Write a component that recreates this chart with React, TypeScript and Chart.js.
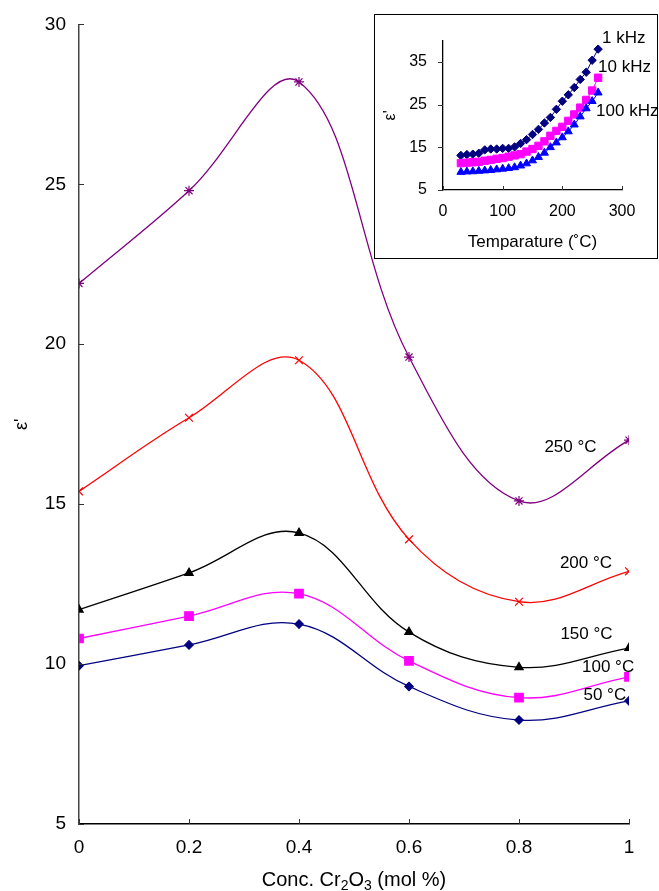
import { useEffect, useRef } from "react";
import { Chart, registerables } from "chart.js";

Chart.register(...registerables);

// ---------- main chart data ----------
const concentrations = [0, 0.2, 0.4, 0.6, 0.8, 1];
const eps50 = [9.95, 10.6, 11.25, 9.3, 8.25, 8.85];
const eps100 = [10.8, 11.5, 12.2, 10.1, 8.95, 9.6];
const eps150 = [11.7, 12.85, 14.1, 11.0, 9.9, 10.5];
const eps200 = [15.4, 17.7, 19.5, 13.9, 11.95, 12.9];
const eps250 = [21.9, 24.8, 28.2, 19.6, 15.1, 17.0];
const xTicks = [0, 0.2, 0.4, 0.6, 0.8, 1];
const xTickLabels = ["0", "0.2", "0.4", "0.6", "0.8", "1"];
const yTicks = [5, 10, 15, 20, 25, 30];
const seriesNames = ["50 °C", "100 °C", "150 °C", "200 °C", "250 °C"];

// ---------- inset data ----------
const temperatures = [30, 40, 50, 60, 70, 80, 90, 100, 110, 120, 130, 140, 150, 160, 170, 180, 190, 200, 210, 220, 230, 240, 250, 260];
const eps1k = [13.1, 13.3, 13.4, 13.6, 14.4, 14.6, 14.6, 14.75, 14.75, 15.1, 15.9, 16.8, 18.0, 19.2, 20.7, 22.0, 23.9, 25.8, 27.3, 29.0, 30.9, 32.6, 35.4, 38.0];
const eps10k = [11.3, 11.4, 11.5, 11.6, 11.85, 12.05, 12.3, 12.5, 12.8, 13.1, 13.4, 14.0, 14.6, 15.35, 16.4, 17.7, 18.85, 19.8, 21.2, 22.7, 24.3, 26.1, 28.3, 31.3];
const eps100k = [9.2, 9.3, 9.35, 9.45, 9.55, 9.65, 9.8, 9.95, 10.1, 10.3, 10.7, 11.2, 11.9, 12.7, 13.7, 15.0, 16.1, 17.3, 18.7, 20.3, 22.2, 24.1, 25.8, 27.8];
const insetXTicks = [0, 100, 200, 300];
const insetYTicks = [5, 15, 25, 35];
const insetNames = ["1 kHz", "10 kHz", "100 kHz"];

const FONT = "'Liberation Sans', Arial, sans-serif";

type Part = { t: string; sub?: boolean };

function drawRich(ctx: CanvasRenderingContext2D, parts: Part[], cx: number, cy: number, size: number) {
  const subSize = Math.round(size * 0.7);
  let total = 0;
  for (const p of parts) {
    ctx.font = `${p.sub ? subSize : size}px ${FONT}`;
    total += ctx.measureText(p.t).width;
  }
  let x = cx - total / 2;
  ctx.textAlign = "left";
  ctx.textBaseline = "middle";
  for (const p of parts) {
    ctx.font = `${p.sub ? subSize : size}px ${FONT}`;
    ctx.fillText(p.t, x, p.sub ? cy + size * 0.3 : cy);
    x += ctx.measureText(p.t).width;
  }
}

const decor = {
  id: "decor",
  afterDraw(chart: any, _args: any, opts: any) {
    const ctx: CanvasRenderingContext2D = chart.ctx;
    const xs = chart.scales.x;
    const ys = chart.scales.y;
    const area = chart.chartArea;
    ctx.save();
    ctx.lineWidth = 1;
    ctx.strokeStyle = opts.tickColor || "#000";
    ctx.beginPath();
    for (const v of opts.xTicks) {
      const px = Math.round(xs.getPixelForValue(v)) + 0.5;
      ctx.moveTo(px, area.bottom);
      ctx.lineTo(px, area.bottom - opts.xTickLen);
    }
    for (const v of opts.yTicks) {
      const py = Math.round(ys.getPixelForValue(v)) + 0.5;
      ctx.moveTo(area.left, py);
      ctx.lineTo(area.left + opts.yTickLen, py);
    }
    ctx.stroke();
    ctx.fillStyle = "#000";
    drawRich(ctx, opts.xTitle, (area.left + area.right) / 2, area.bottom + opts.xTitleOffset, opts.titleSize);
    ctx.save();
    ctx.translate(opts.yTitleX, (area.top + area.bottom) / 2);
    ctx.rotate(-Math.PI / 2);
    ctx.font = `${opts.yTitleSize}px ${FONT}`;
    ctx.textAlign = "center";
    ctx.textBaseline = "middle";
    ctx.fillText(opts.yTitle, 0, 0);
    ctx.restore();
    for (const l of opts.labels) {
      ctx.font = `${l.size}px ${FONT}`;
      ctx.textAlign = l.align || "center";
      ctx.textBaseline = "middle";
      ctx.fillText(l.text, xs.getPixelForValue(l.xv), ys.getPixelForValue(l.yv));
    }
    ctx.restore();
  },
};

function pts(xsArr: number[], ysArr: number[]) {
  return xsArr.map((x, i) => ({ x, y: ysArr[i] }));
}

function mainSeries(label: string, values: number[], color: string, style: string, radius: number) {
  return {
    label,
    data: pts(concentrations, values),
    borderColor: color,
    backgroundColor: color,
    borderWidth: 1.3,
    pointStyle: style,
    pointRadius: radius,
    pointBorderWidth: 1.2,
    pointBorderColor: color,
    pointBackgroundColor: color,
    tension: 0.38,
    fill: false,
  };
}

function insetSeries(label: string, values: number[], color: string, style: string, radius: number) {
  return {
    label,
    data: pts(temperatures, values),
    borderColor: color,
    backgroundColor: color,
    borderWidth: 1,
    pointStyle: style,
    pointRadius: radius,
    pointBorderWidth: 1,
    pointBorderColor: color,
    pointBackgroundColor: color,
    tension: 0,
    fill: false,
  };
}

export default function App() {
  const mainRef = useRef<HTMLCanvasElement>(null);
  const insetRef = useRef<HTMLCanvasElement>(null);

  useEffect(() => {
    Chart.defaults.font.family = FONT;
    Chart.defaults.color = "#000";

    const main = new Chart(mainRef.current!, {
      type: "line",
      data: {
        datasets: [
          mainSeries(seriesNames[0], eps50, "#000080", "rectRot", 4.2),
          mainSeries(seriesNames[1], eps100, "#ff00ff", "rect", 6),
          mainSeries(seriesNames[2], eps150, "#000000", "triangle", 4.8),
          mainSeries(seriesNames[3], eps200, "#ff0000", "crossRot", 5.5),
          mainSeries(seriesNames[4], eps250, "#800080", "star", 5),
        ],
      },
      options: {
        animation: false,
        responsive: false,
        layout: { padding: { top: 21, right: 30, left: 0, bottom: 0 } },
        plugins: {
          legend: { display: false },
          tooltip: { enabled: false },
          decor: {
            xTicks,
            yTicks,
            xTickLen: 5,
            yTickLen: 5,
            tickColor: "#333",
            titleSize: 20,
            yTitleSize: 18,
            xTitle: [{ t: "Conc. Cr" }, { t: "2", sub: true }, { t: "O" }, { t: "3", sub: true }, { t: " (mol %)" }],
            xTitleOffset: 56,
            yTitle: "ε'",
            yTitleX: 22,
            labels: [
              { text: seriesNames[4], xv: 0.8936, yv: 16.77, size: 17 },
              { text: seriesNames[3], xv: 0.9218, yv: 13.14, size: 17 },
              { text: seriesNames[2], xv: 0.9227, yv: 10.93, size: 17 },
              { text: seriesNames[1], xv: 0.962, yv: 9.9, size: 17 },
              { text: seriesNames[0], xv: 0.956, yv: 9.02, size: 17 },
            ],
          },
        } as any,
        scales: {
          x: {
            type: "linear",
            min: 0,
            max: 1,
            afterBuildTicks: (s: any) => {
              s.ticks = xTicks.map((value) => ({ value }));
            },
            afterFit: (s: any) => {
              s.height = 67;
            },
            grid: { display: false, drawTicks: false, tickLength: 0 },
            border: { display: true, color: "#000", width: 1.5 },
            ticks: {
              padding: 12,
              font: { size: 19 },
              color: "#000",
              maxRotation: 0,
              callback: (_v: any, i: number) => xTickLabels[i],
            },
          },
          y: {
            type: "linear",
            min: 5,
            max: 30,
            afterBuildTicks: (s: any) => {
              s.ticks = yTicks.map((value) => ({ value }));
            },
            afterFit: (s: any) => {
              s.width = 79;
            },
            grid: { display: false, drawTicks: false, tickLength: 0 },
            border: { display: true, color: "#444", width: 1.5 },
            ticks: { padding: 13, font: { size: 19 }, color: "#000" },
          },
        },
      },
      plugins: [decor],
    } as any);

    const inset = new Chart(insetRef.current!, {
      type: "line",
      data: {
        datasets: [
          insetSeries(insetNames[2], eps100k, "#0000ff", "triangle", 4.6),
          insetSeries(insetNames[1], eps10k, "#ff00ff", "rect", 5.2),
          insetSeries(insetNames[0], eps1k, "#000080", "rectRot", 4.2),
        ],
      },
      options: {
        animation: false,
        responsive: false,
        layout: { padding: { top: 19, right: 35, left: 0, bottom: 0 } },
        plugins: {
          legend: { display: false },
          tooltip: { enabled: false },
          decor: {
            xTicks: insetXTicks,
            yTicks: insetYTicks,
            xTickLen: 4,
            yTickLen: -5,
            tickColor: "#333",
            titleSize: 17,
            yTitleSize: 16,
            xTitle: [{ t: "Temparature (˚C)" }],
            xTitleOffset: 52,
            yTitle: "ε'",
            yTitleX: 16,
            labels: [
              { text: insetNames[0], xv: 266.5, yv: 40.45, size: 17, align: "left" },
              { text: insetNames[1], xv: 259.8, yv: 33.7, size: 17, align: "left" },
              { text: insetNames[2], xv: 256.5, yv: 23.4, size: 17, align: "left" },
            ],
          },
        } as any,
        scales: {
          x: {
            type: "linear",
            min: 0,
            max: 300,
            afterBuildTicks: (s: any) => {
              s.ticks = insetXTicks.map((value) => ({ value }));
            },
            afterFit: (s: any) => {
              s.height = 68;
            },
            grid: { display: false, drawTicks: false, tickLength: 0 },
            border: { display: true, color: "#000", width: 1.3 },
            ticks: { padding: 12, font: { size: 16 }, color: "#000", maxRotation: 0 },
          },
          y: {
            type: "linear",
            min: 5,
            max: 40,
            afterBuildTicks: (s: any) => {
              s.ticks = insetYTicks.map((value) => ({ value }));
            },
            afterFit: (s: any) => {
              s.width = 68;
            },
            grid: { display: false, drawTicks: false, tickLength: 0 },
            border: { display: true, color: "#000", width: 1.3 },
            ticks: { padding: 16, font: { size: 16 }, color: "#000" },
          },
        },
      },
      plugins: [decor],
    } as any);

    return () => {
      main.destroy();
      inset.destroy();
    };
  }, []);

  return (
    <div style={{ position: "absolute", left: 0, top: 0, width: 659, height: 891, background: "#fff" }}>
      <canvas ref={mainRef} width={659} height={891} style={{ display: "block" }} />
      <div
        style={{
          position: "absolute",
          left: 374,
          top: 14,
          width: 282,
          height: 243,
          border: "1px solid #000",
          background: "#fff",
        }}
      >
        <canvas ref={insetRef} width={282} height={243} style={{ display: "block" }} />
      </div>
    </div>
  );
}
